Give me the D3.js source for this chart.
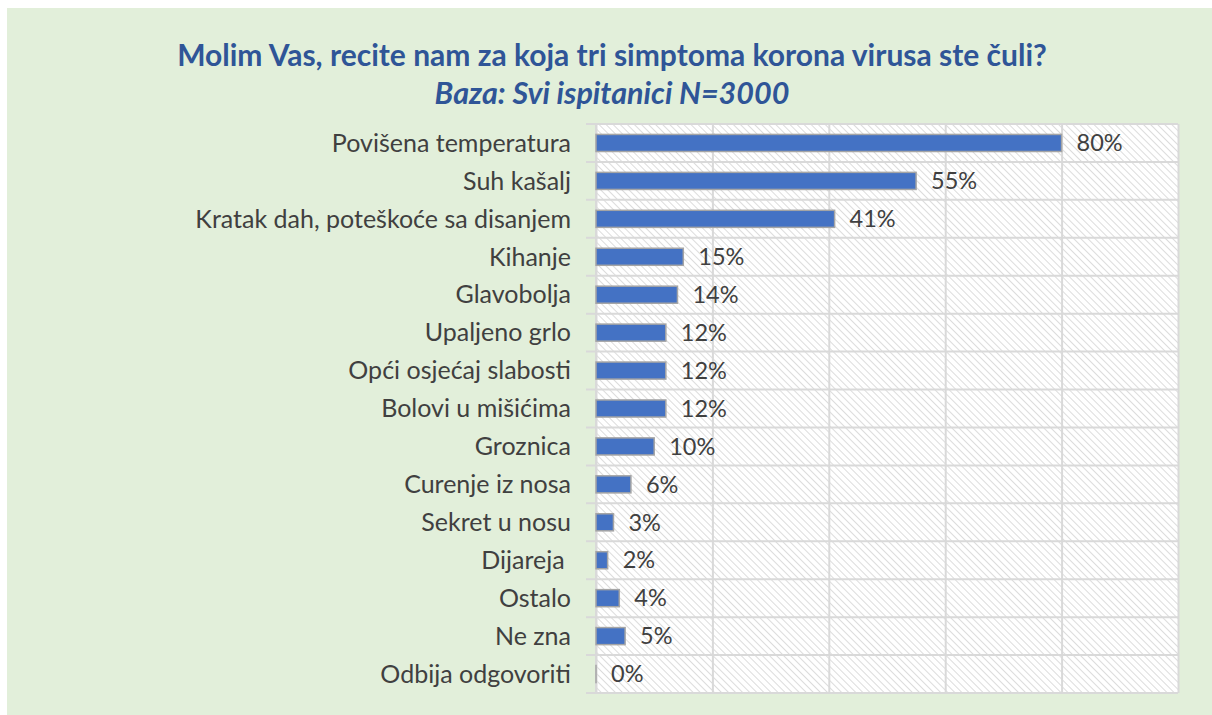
<!DOCTYPE html>
<html><head><meta charset="utf-8">
<script src="https://cdn.jsdelivr.net/npm/d3@7"></script>
<style>body{margin:0;background:#fff;} svg{display:block;} text{white-space:pre;}</style>
</head><body>
<svg id="chart" width="1212" height="715"></svg>
<script>
const categories = ["Povišena temperatura","Suh kašalj","Kratak dah, poteškoće sa disanjem","Kihanje","Glavobolja","Upaljeno grlo","Opći osjećaj slabosti","Bolovi u mišićima","Groznica","Curenje iz nosa","Sekret u nosu","Dijareja ","Ostalo","Ne zna","Odbija odgovoriti"];
const values = [80,55,41,15,14,12,12,12,10,6,3,2,4,5,0];
const xTicks = [0,20,40,60,80,100];
const titleText = "Molim Vas, recite nam za koja tri simptoma korona virusa ste čuli?";
const subtitleText = "Baza: Svi ispitanici N=3000";

const svg = d3.select("#chart");
const W = 1212, H = 715;
svg.append("rect").attr("x",7).attr("y",8).attr("width",W-7).attr("height",H-8).attr("fill","#E2EFDA");

const defs = svg.append("defs");
const pat = defs.append("pattern").attr("id","hatch").attr("patternUnits","userSpaceOnUse")
  .attr("width",5).attr("height",5).attr("patternTransform","rotate(-45)");
pat.append("rect").attr("width",5).attr("height",5).attr("fill","#ffffff");
pat.append("line").attr("x1",0).attr("y1",0).attr("x2",0).attr("y2",5).attr("stroke","#dcdcdc").attr("stroke-width",2);

const m = {left:596, right:1178, top:124, bottom:693};
const x = d3.scaleLinear().domain([0,100]).range([m.left,m.right]);
const y = d3.scaleBand().domain(categories).range([m.top,m.bottom]).paddingInner(0.55).paddingOuter(0.275);
const yb = d3.scaleBand().domain(categories).range([m.top,m.bottom]);

svg.append("rect").attr("x",m.left).attr("y",m.top).attr("width",m.right-m.left).attr("height",m.bottom-m.top).attr("fill","url(#hatch)");

// vertical gridlines
svg.append("g").attr("transform",`translate(0,${m.bottom})`)
  .call(d3.axisBottom(x).tickValues(xTicks).tickSize(-(m.bottom-m.top)).tickFormat(""))
  .call(g=>g.select(".domain").remove())
  .call(g=>g.selectAll("line").attr("stroke","#d9d9d9").attr("stroke-width",2));

// horizontal gridlines at band boundaries
const bounds = categories.map(c=>yb(c)).concat([m.bottom]);
svg.append("g").selectAll("line").data(bounds).join("line")
  .attr("x1",m.left-10).attr("x2",m.right).attr("y1",d=>d).attr("y2",d=>d)
  .attr("stroke","#d9d9d9").attr("stroke-width",2);

// axis line
svg.append("line").attr("x1",m.left).attr("x2",m.left).attr("y1",m.top).attr("y2",m.bottom)
  .attr("stroke","#d9d9d9").attr("stroke-width",2);

// category labels
svg.append("g").selectAll("text").data(categories).join("text")
  .attr("x",571).attr("y",d=>yb(d)+yb.bandwidth()/2).attr("dy","0.35em")
  .attr("text-anchor","end").attr("font-family","Lato, 'Open Sans', sans-serif").attr("font-size",25)
  .attr("fill","#404040").text(d=>d);

// bars
svg.append("g").selectAll("rect").data(values).join("rect")
  .attr("x",x(0)).attr("y",(d,i)=>y(categories[i]))
  .attr("width",d=>Math.max(x(d)-x(0),0.01)).attr("height",y.bandwidth())
  .attr("fill","#4472C4").attr("stroke","#a5a5a5").attr("stroke-width",1.5);

// value labels
svg.append("g").selectAll("text").data(values).join("text")
  .attr("x",d=>x(d)+15).attr("y",(d,i)=>yb(categories[i])+yb.bandwidth()/2).attr("dy","0.35em")
  .attr("font-family","Lato, 'Open Sans', sans-serif").attr("font-size",23.5)
  .attr("fill","#404040").text(d=>d+"%");

// title
svg.append("text").attr("x",612).attr("y",66).attr("text-anchor","middle")
  .attr("font-family","Lato, sans-serif").attr("font-weight","bold").attr("font-size",30)
  .attr("fill","#2F5597").text(titleText);
svg.append("text").attr("x",612).attr("y",104).attr("text-anchor","middle")
  .attr("font-family","Lato, sans-serif").attr("font-weight","bold").attr("font-style","italic").attr("font-size",30.5)
  .attr("fill","#2F5597").text(subtitleText);
</script>
</body></html>
